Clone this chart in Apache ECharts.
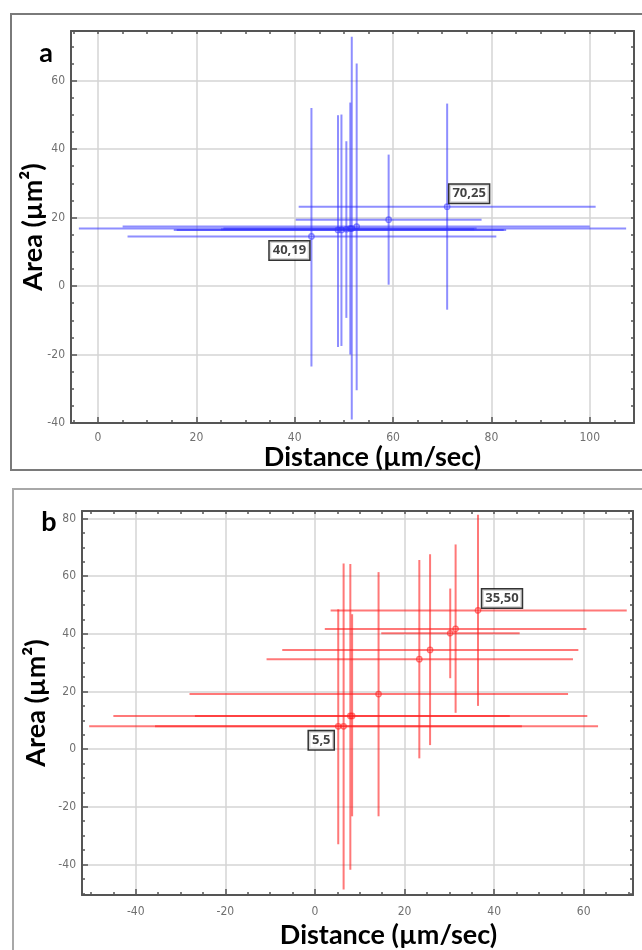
<!DOCTYPE html>
<html>
<head>
<meta charset="utf-8">
<script src="https://cdn.jsdelivr.net/npm/echarts@6/dist/echarts.min.js"></script>
<style>
html, body { margin: 0; padding: 0; background: #fff; }
#chart { width: 642px; height: 950px; }
</style>
</head>
<body>
<div id="chart"></div>
<script>
// panel a (blue): point, x error range, y error range
var distA   = [43.4, 48.8, 49.5, 50.5, 51.3, 51.6, 52.6, 59.1, 71.0];
var areaA   = [14.5, 16.4, 16.4, 16.6, 16.8, 16.8, 17.4, 19.4, 23.2];
var distLoA = [6, 15.4, 16, 25, 25.5, -3.9, 5, 40.2, 40.8];
var distHiA = [81, 83, 82.5, 76.5, 77, 107.4, 100, 78, 101.2];
var areaLoA = [-23.5, -17.8, -17.5, -9.3, -20, -39, -30.4, 0.4, -6.9];
var areaHiA = [52, 49.9, 50.1, 42.3, 53.6, 72.8, 65, 38.4, 53.3];
var noteIdxA  = [0, 8];
var noteTextA = ['40,19', '70,25'];

// panel b (red)
var distB   = [5.2, 6.4, 7.9, 8.3, 14.2, 23.3, 25.7, 30.2, 31.4, 36.4];
var areaB   = [7.9, 7.9, 11.5, 11.5, 19.1, 31.2, 34.4, 40.2, 41.7, 48.1];
var distLoB = [-35.7, -50.4, -45, -26.8, -28, -10.8, -7.3, 14.8, 2.2, 3.5];
var distHiB = [46.2, 63.2, 60.8, 43.5, 56.5, 57.6, 58.8, 45.7, 60.6, 69.6];
var areaLoB = [-33, -48.7, -41.8, -23.3, -23.3, -3.2, 1.4, 24.6, 12.6, 15];
var areaHiB = [48.5, 64.4, 64.2, 46.8, 61.4, 65.6, 67.6, 55.7, 71, 81.3];
var noteIdxB  = [0, 9];
var noteTextB = ['5,5', '35,50'];

var xTitle = 'Distance (µm/sec)';
var yTitle = 'Area (µm²)';

function rows(x, y, xlo, xhi, ylo, yhi) {
    var out = [];
    for (var i = 0; i < x.length; i++) {
        out.push([x[i], y[i], xlo[i], xhi[i], ylo[i], yhi[i]]);
    }
    return out;
}

function notes(idx, texts, x, y, offsets) {
    var out = [];
    for (var i = 0; i < idx.length; i++) {
        out.push({
            value: [x[idx[i]], y[idx[i]]],
            label: { formatter: texts[i], offset: offsets[i] }
        });
    }
    return out;
}

function errorCross(params, api) {
    var x = api.value(0), y = api.value(1);
    var c = api.coord([x, y]);
    var l = api.coord([api.value(2), y]);
    var r = api.coord([api.value(3), y]);
    var b = api.coord([x, api.value(4)]);
    var t = api.coord([x, api.value(5)]);
    var color = api.visual('color');
    return {
        type: 'group',
        children: [
            { type: 'line', shape: { x1: l[0], y1: l[1], x2: r[0], y2: r[1] }, style: { stroke: color, lineWidth: 2 } },
            { type: 'line', shape: { x1: b[0], y1: b[1], x2: t[0], y2: t[1] }, style: { stroke: color, lineWidth: 2 } },
            { type: 'circle', shape: { cx: c[0], cy: c[1], r: 2.6 }, style: { stroke: color, fill: 'none', lineWidth: 1.5 } }
        ]
    };
}

var tickFont = "'Liberation Sans Narrow', 'DejaVu Sans Condensed', sans-serif";
var titleFont = "Lato, 'Open Sans', sans-serif";

function every20(v) {
    return Math.abs(v % 20) < 1e-6 ? String(v) : '';
}

function mainAxis(grid, pos, min, max, name, nameGap, labelMargin, namePad) {
    return {
        type: 'value', gridIndex: grid, position: pos, min: min, max: max, splitNumber: 6,
        name: name, nameLocation: 'middle', nameGap: nameGap, nameMoveOverlap: false,
        nameTextStyle: { fontFamily: titleFont, fontWeight: 'bold', fontSize: 27, color: '#000', padding: namePad },
        axisLine: { show: true, onZero: false, lineStyle: { color: '#555', width: 2 } },
        axisTick: { show: true, inside: true, length: 6, lineStyle: { color: '#555', width: 1.5 } },
        axisLabel: { show: true, margin: labelMargin, color: '#707070', fontSize: 12, fontFamily: tickFont, formatter: every20, showMinLabel: true, showMaxLabel: true },
        splitLine: { show: true, lineStyle: { color: '#d4d4d4', width: 1.5 } }
    };
}

function minorAxis(grid, pos, min, max, showLine) {
    return {
        type: 'value', gridIndex: grid, position: pos, min: min, max: max, splitNumber: 22,
        axisLine: { show: showLine, onZero: false, lineStyle: { color: '#555', width: 2 } },
        axisTick: { show: true, inside: true, length: 3, lineStyle: { color: '#555', width: 1.5 } },
        axisLabel: { show: false },
        splitLine: { show: false }
    };
}

var noteLabel = {
    show: true, position: 'inside', color: '#111', fontFamily: "'Open Sans', sans-serif",
    fontWeight: 'bold', fontSize: 13, backgroundColor: '#fff',
    borderColor: '#000', borderWidth: 1.5, padding: [3, 3, 2, 3]
};

var chart = echarts.init(document.getElementById('chart'));

var option = {
    animation: false,
    backgroundColor: '#fff',
    grid: [
        { left: 71, top: 31, width: 563, height: 392 },
        { left: 82, top: 511, width: 551, height: 386 }
    ],
    xAxis: [
        mainAxis(0, 'bottom', -5.5, 109, xTitle, 21, 9, [0, 0, 0, 40]),
        minorAxis(0, 'bottom', -5.5, 109, false),
        minorAxis(0, 'top', -5.5, 109, true),
        mainAxis(1, 'bottom', -52, 71, xTitle, 27, 11, [0, 0, 0, 62]),
        minorAxis(1, 'bottom', -52, 71, false),
        minorAxis(1, 'top', -52, 71, true)
    ],
    yAxis: [
        mainAxis(0, 'left', -40, 74.5, yTitle, 24, 6, 0),
        minorAxis(0, 'left', -40, 74.5, false),
        minorAxis(0, 'right', -40, 74.5, true),
        mainAxis(1, 'left', -50.6, 82.6, yTitle, 32, 6, 0),
        minorAxis(1, 'left', -50.6, 82.6, false),
        minorAxis(1, 'right', -50.6, 82.6, true)
    ],
    graphic: [
        { type: 'rect', shape: { x: 11, y: 14, width: 640, height: 456 }, style: { fill: 'none', stroke: '#7a7a7a', lineWidth: 2 }, z: -1 },
        { type: 'rect', shape: { x: 13, y: 489, width: 640, height: 470 }, style: { fill: 'none', stroke: '#a8a8a8', lineWidth: 2 }, z: -1 },
        { type: 'text', x: 46, y: 53, style: { text: 'a', fill: '#000', font: "bold 27px Lato, 'Open Sans', sans-serif", align: 'center', verticalAlign: 'middle' } },
        { type: 'text', x: 49, y: 522, style: { text: 'b', fill: '#000', font: "bold 27px Lato, 'Open Sans', sans-serif", align: 'center', verticalAlign: 'middle' } }
    ],
    series: [
        {
            type: 'custom', xAxisIndex: 0, yAxisIndex: 0, clip: true,
            renderItem: errorCross,
            itemStyle: { color: 'rgba(50,50,255,0.55)' },
            encode: { x: [0, 2, 3], y: [1, 4, 5] },
            data: rows(distA, areaA, distLoA, distHiA, areaLoA, areaHiA)
        },
        {
            type: 'custom', xAxisIndex: 3, yAxisIndex: 3, clip: true,
            renderItem: errorCross,
            itemStyle: { color: 'rgba(255,30,30,0.6)' },
            encode: { x: [0, 2, 3], y: [1, 4, 5] },
            data: rows(distB, areaB, distLoB, distHiB, areaLoB, areaHiB)
        },
        {
            type: 'scatter', xAxisIndex: 0, yAxisIndex: 0, symbolSize: 0, z: 5,
            label: noteLabel,
            data: notes(noteIdxA, noteTextA, distA, areaA, [[-22, 14], [22, -13]])
        },
        {
            type: 'scatter', xAxisIndex: 3, yAxisIndex: 3, symbolSize: 0, z: 5,
            label: noteLabel,
            data: notes(noteIdxB, noteTextB, distB, areaB, [[-17, 14], [24, -12]])
        }
    ]
};
chart.setOption(option);
</script>
</body>
</html>
